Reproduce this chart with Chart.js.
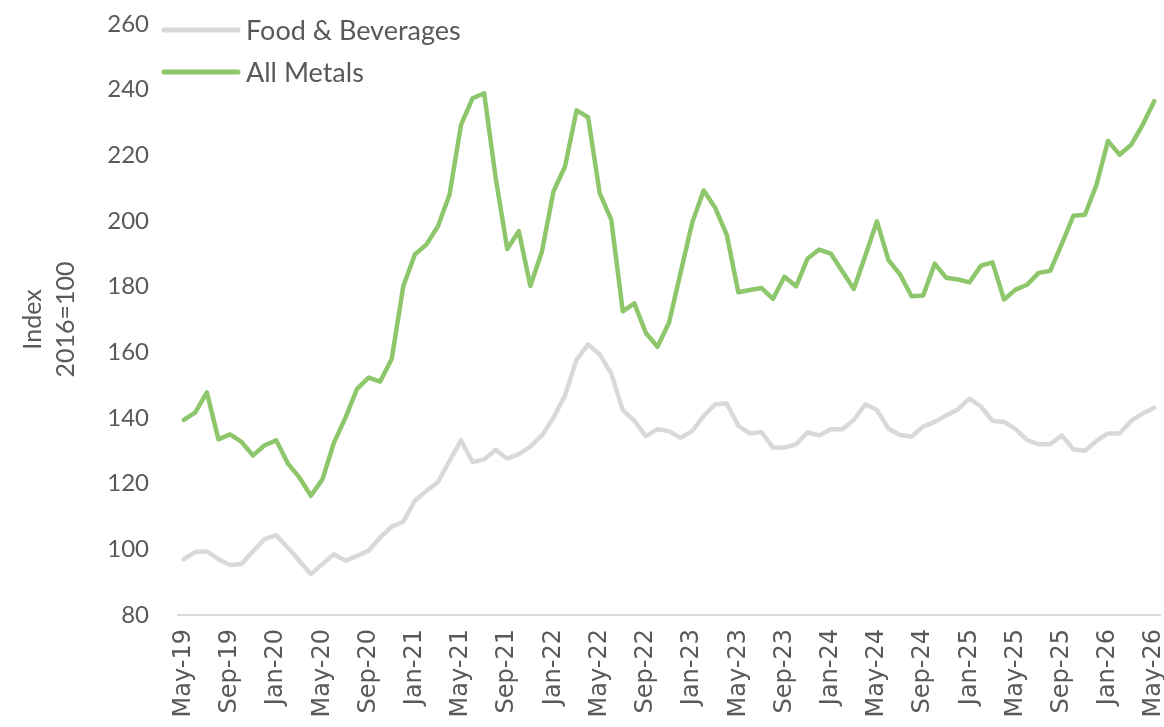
<!DOCTYPE html>
<html>
<head>
<meta charset="utf-8">
<script src="https://cdn.jsdelivr.net/npm/chart.js@4/dist/chart.umd.min.js"></script>
<style>
  html, body { margin: 0; padding: 0; background: #ffffff; }
  #wrap { width: 1164px; height: 727px; position: relative; }
</style>
</head>
<body>
<div id="wrap"><canvas id="chart" width="1164" height="727"></canvas></div>
<script>
// Monthly categories, May 2019 – May 2026
const months = [
  'May-19','Jun-19','Jul-19','Aug-19','Sep-19','Oct-19','Nov-19','Dec-19',
  'Jan-20','Feb-20','Mar-20','Apr-20','May-20','Jun-20','Jul-20','Aug-20','Sep-20','Oct-20','Nov-20','Dec-20',
  'Jan-21','Feb-21','Mar-21','Apr-21','May-21','Jun-21','Jul-21','Aug-21','Sep-21','Oct-21','Nov-21','Dec-21',
  'Jan-22','Feb-22','Mar-22','Apr-22','May-22','Jun-22','Jul-22','Aug-22','Sep-22','Oct-22','Nov-22','Dec-22',
  'Jan-23','Feb-23','Mar-23','Apr-23','May-23','Jun-23','Jul-23','Aug-23','Sep-23','Oct-23','Nov-23','Dec-23',
  'Jan-24','Feb-24','Mar-24','Apr-24','May-24','Jun-24','Jul-24','Aug-24','Sep-24','Oct-24','Nov-24','Dec-24',
  'Jan-25','Feb-25','Mar-25','Apr-25','May-25','Jun-25','Jul-25','Aug-25','Sep-25','Oct-25','Nov-25','Dec-25',
  'Jan-26','Feb-26','Mar-26','Apr-26','May-26'
];

// Food & Beverages price index (2016=100)
const foodBeverages = [
  97.0, 99.2, 99.4, 97.0, 95.2, 95.5, 99.4, 103.1,
  104.3, 100.6, 96.5, 92.5, 95.5, 98.5, 96.5, 98.0, 99.6, 103.6, 106.9, 108.4,
  114.8, 117.8, 120.5, 126.9, 133.2, 126.6, 127.4, 130.3, 127.6, 129.0, 131.3, 134.7,
  140.1, 146.9, 157.8, 162.4, 159.4, 153.6, 142.4, 139.1, 134.5, 136.6, 136.0, 134.0,
  136.0, 140.6, 144.2, 144.4, 137.6, 135.3, 135.7, 131.0, 131.0, 132.0, 135.6, 134.7,
  136.6, 136.6, 139.4, 144.2, 142.4, 136.8, 134.8, 134.3, 137.4, 138.8, 140.8, 142.6,
  145.9, 143.5, 139.1, 138.8, 136.6, 133.3, 132.0, 132.0, 134.7, 130.5, 130.0, 133.0,
  135.3, 135.3, 139.1, 141.4, 143.1
];

// All Metals price index (2016=100)
const allMetals = [
  139.4, 141.7, 147.8, 133.5, 135.0, 132.7, 128.6, 131.7,
  133.2, 126.2, 121.9, 116.3, 121.3, 132.5, 140.1, 148.9, 152.3, 151.1, 158.0, 180.1,
  189.8, 192.8, 198.4, 208.0, 229.3, 237.4, 238.9, 213.1, 191.5, 196.9, 180.2, 190.7,
  209.0, 216.6, 233.7, 231.6, 208.5, 200.4, 172.5, 174.9, 165.9, 161.7, 169.0, 184.2,
  199.4, 209.3, 204.0, 195.8, 178.3, 179.0, 179.6, 176.3, 183.0, 180.1, 188.6, 191.3,
  190.1, 184.7, 179.3, 189.5, 199.9, 188.1, 183.7, 177.1, 177.3, 187.0, 182.7, 182.2,
  181.3, 186.4, 187.4, 176.1, 179.1, 180.6, 184.2, 184.8, 193.0, 201.6, 201.9, 211.0,
  224.4, 220.2, 223.2, 229.3, 236.5
];

// Value axis ticks
const yTicks = [80, 100, 120, 140, 160, 180, 200, 220, 240, 260];
const yTitle = ['Index', '2016=100'];
const labelEvery = 4;

const TEXT = '#595959';
const GRAY = '#d9d9d9';
const GREEN = '#8dc66b';

// Legend drawn inside the top-left corner of the plot
const insetLegend = {
  id: 'insetLegend',
  afterDraw(chart) {
    const { ctx, chartArea } = chart;
    const x0 = chartArea.left - 14;
    const y0 = chartArea.top + 6;
    const rowGap = 42;
    ctx.save();
    ctx.font = '27px Lato';
    ctx.textBaseline = 'middle';
    ctx.textAlign = 'left';
    chart.data.datasets.forEach((ds, i) => {
      const y = y0 + i * rowGap;
      ctx.strokeStyle = ds.borderColor;
      ctx.lineWidth = 5;
      ctx.lineCap = 'round';
      ctx.beginPath();
      ctx.moveTo(x0, y);
      ctx.lineTo(x0 + 74, y);
      ctx.stroke();
      ctx.fillStyle = TEXT;
      ctx.fillText(ds.label, x0 + 82, y + 1);
    });
    ctx.restore();
  }
};

new Chart(document.getElementById('chart'), {
  type: 'line',
  data: {
    labels: months,
    datasets: [
      {
        label: 'Food & Beverages',
        data: foodBeverages,
        borderColor: GRAY,
        borderWidth: 4.5,
        borderJoinStyle: 'round',
        borderCapStyle: 'round',
        pointRadius: 0,
        tension: 0
      },
      {
        label: 'All Metals',
        data: allMetals,
        borderColor: GREEN,
        borderWidth: 4.5,
        borderJoinStyle: 'round',
        borderCapStyle: 'round',
        pointRadius: 0,
        tension: 0
      }
    ]
  },
  options: {
    responsive: false,
    animation: false,
    devicePixelRatio: 1,
    layout: { padding: { top: 24, right: 4, bottom: 0, left: 0 } },
    plugins: {
      legend: { display: false },
      tooltip: { enabled: false }
    },
    scales: {
      x: {
        type: 'category',
        offset: true,
        grid: { display: false, drawTicks: false },
        border: { display: true, color: GRAY, width: 2 },
        ticks: {
          autoSkip: false,
          maxRotation: 90,
          minRotation: 90,
          padding: 14,
          color: TEXT,
          font: { family: 'DejaVu Sans', size: 24 },
          callback: function (value, index) {
            return index % labelEvery === 0 ? months[index] : '';
          }
        },
        afterFit(scale) {
          scale.height = 112;
          scale.paddingLeft = 0;
          scale.paddingRight = 0;
        }
      },
      y: {
        min: yTicks[0],
        max: yTicks[yTicks.length - 1],
        grid: { display: false, drawTicks: false },
        border: { display: false },
        afterBuildTicks(scale) {
          scale.ticks = yTicks.map(v => ({ value: v }));
        },
        ticks: {
          padding: 29,
          color: TEXT,
          font: { family: 'Lato', size: 24 }
        },
        title: {
          display: true,
          text: yTitle,
          color: TEXT,
          font: { family: 'Lato', size: 25, lineHeight: 1.3 },
          padding: { top: 17, bottom: 0 }
        },
        afterFit(scale) {
          scale.width = 178;
          scale.paddingTop = 0;
          scale.paddingBottom = 0;
        }
      }
    }
  },
  plugins: [insetLegend]
});
</script>
</body>
</html>
